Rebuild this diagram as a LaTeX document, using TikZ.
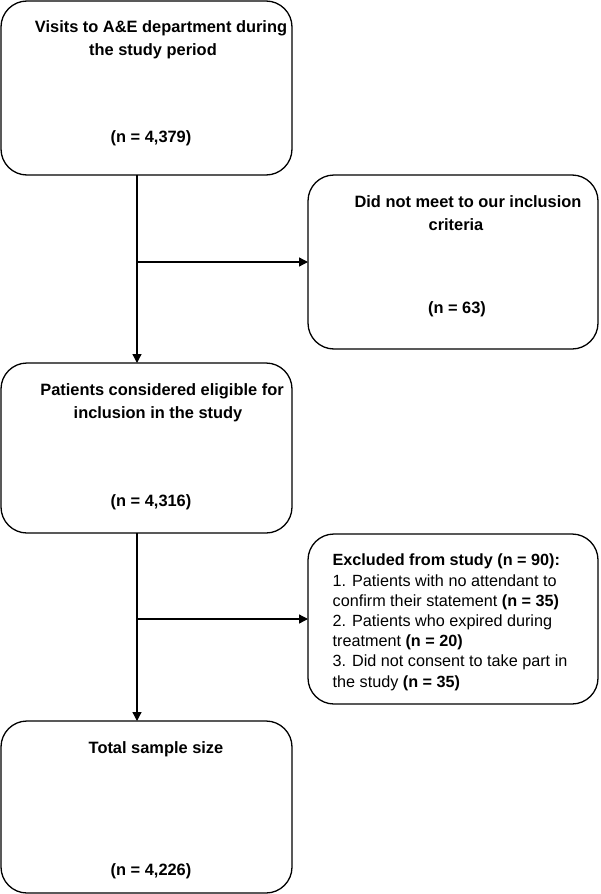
\documentclass[tikz,border=0pt]{standalone}
\usepackage{fontspec}
\setmainfont{Liberation Sans}
\usetikzlibrary{arrows.meta}

\begin{document}
\begin{tikzpicture}[x = 1pt, y = -1pt, line width = 1.3pt]
	\tikzstyle{boxStyle} = [draw, rectangle, rounded corners = 26pt, inner sep = 0pt, outer sep = 0pt]
	\tikzstyle{headStyle} = [anchor = base, inner sep = 0pt, font = \fontsize{16.4}{23}\selectfont\bfseries]
	\tikzstyle{listStyle} = [anchor = north west, inner sep = 0pt, align = left, font = \fontsize{16.2}{20.2}\selectfont]
	\tikzstyle{flowStyle} = [-{Triangle[length = 9pt, width = 9pt]}]
	\useasboundingbox (0,0) rectangle (600,894);
	% boxes
	\node[boxStyle, minimum width = 291pt, minimum height = 174pt] (visits) at (146.5, 88) {};
	\node[boxStyle, minimum width = 290pt, minimum height = 174pt] (notMet) at (453, 262) {};
	\node[boxStyle, minimum width = 291pt, minimum height = 170pt] (eligible) at (146.5, 448) {};
	\node[boxStyle, minimum width = 290pt, minimum height = 170pt] (excluded) at (453, 619) {};
	\node[boxStyle, minimum width = 291pt, minimum height = 172pt] (total) at (146.5, 807) {};
	% texts
	\node[headStyle] (visitsA) at (161, 32) {Visits to A\&E department during};
	\node[headStyle] (visitsB) at (153, 55) {the study period};
	\node[headStyle] (visitsN) at (151, 142) {(n = 4,379)};
	\node[headStyle] (notMetA) at (468, 207) {Did not meet to our inclusion};
	\node[headStyle] (notMetB) at (456, 230) {criteria};
	\node[headStyle] (notMetN) at (457, 313) {(n = 63)};
	\node[headStyle] (eligibleA) at (162, 395) {Patients considered eligible for};
	\node[headStyle] (eligibleB) at (158, 418) {inclusion in the study};
	\node[headStyle] (eligibleN) at (151, 506) {(n = 4,316)};
	\node[headStyle] (totalA) at (156, 753) {Total sample size};
	\node[headStyle] (totalN) at (151, 875) {(n = 4,226)};
	\node[listStyle] (excludedList) at (332, 553.5) {\textbf{Excluded from study (n = 90):}\\
		1. Patients with no attendant to\\
		confirm their statement \textbf{(n = 35)}\\
		2. Patients who expired during\\
		treatment \textbf{(n = 20)}\\
		3. Did not consent to take part in\\
		the study \textbf{(n = 35)}};
	% connectors
	\coordinate (split1) at (137, 262);
	\coordinate (split2) at (137, 619);
	\draw[flowStyle] (visits.south -| split1) -- (eligible.north -| split1);
	\draw[flowStyle] (split1) -- (notMet.west);
	\draw[flowStyle] (eligible.south -| split1) -- (total.north -| split1);
	\draw[flowStyle] (split2) -- (excluded.west);
\end{tikzpicture}
\end{document}
